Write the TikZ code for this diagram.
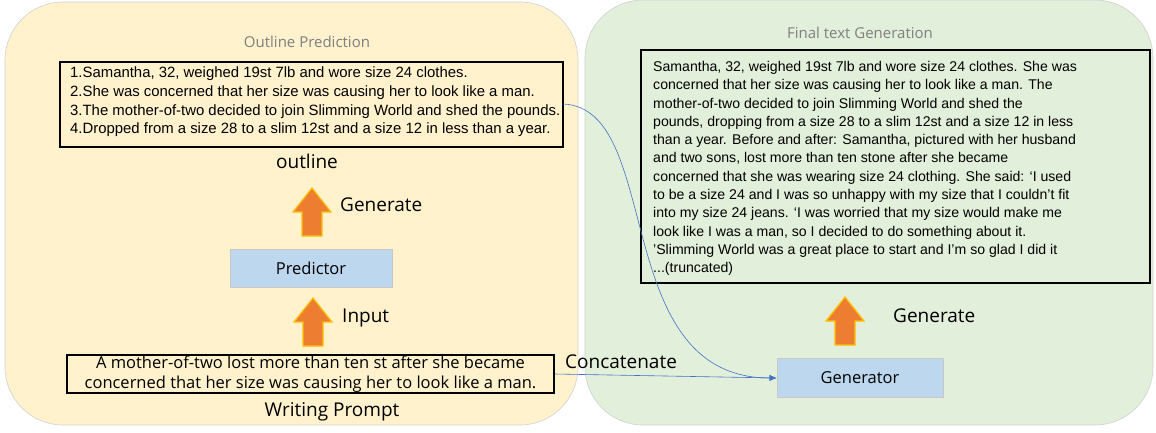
\documentclass[tikz,border=0pt]{standalone}
\usepackage{fontspec}
\usetikzlibrary{arrows.meta}
\setmainfont{Liberation Sans}
\newfontfamily\comic{Open Sans}
\definecolor{yelc}{HTML}{FFF2CC}
\definecolor{grnc}{HTML}{E2EFDA}
\definecolor{panelc}{HTML}{D0D0D0}
\definecolor{bluec}{HTML}{BDD7EE}
\definecolor{boxbc}{HTML}{C8C8C8}
\definecolor{orac}{HTML}{ED7D31}
\definecolor{goldc}{HTML}{FFC000}
\definecolor{linec}{HTML}{4472C4}
\definecolor{titc}{HTML}{7F7F7F}
\begin{document}
\begin{tikzpicture}[x=1pt,y=-1pt,
  panel/.style={draw=panelc, line width=0.6pt, rounded corners=58pt},
  modbox/.style={draw=boxbc, line width=0.8pt, fill=bluec, minimum width=162pt, minimum height=38pt, font=\comic\fontsize{16.5}{18}\selectfont},
  lbl/.style={font=\comic\fontsize{19}{22}\selectfont, inner sep=0pt},
  ttl/.style={font=\comic\fontsize{15}{18}\selectfont, text=titc, inner sep=0pt},
  conn/.style={draw=linec, line width=0.6pt, -{Latex[length=7pt,width=6pt]}},
  uparrow/.pic={\draw[fill=orac, draw=goldc, line width=1.2pt] (0,0) -- (19,24) -- (10,24) -- (10,48) -- (-10,48) -- (-10,24) -- (-19,24) -- cycle;}
]
\useasboundingbox (0,0) rectangle (1156,432);
% panels
\draw[panel, fill=yelc] (5,2) rectangle (578,425);
\draw[panel, fill=grnc] (585,0) rectangle (1153,425);
% titles
\node[ttl] (t1) at (307,42) {Outline Prediction};
\node[ttl] (t2) at (860,33) {Final text Generation};
% outline box
\draw[line width=1.6pt] (60,62) rectangle (563,147);
\node[inner sep=0pt, anchor=north west, align=left, font=\fontsize{14.9}{18.8}\selectfont] (outl) at (70,66.5)
{1.Samantha, 32, weighed 19st 7lb and wore size 24 clothes.\\
2.She was concerned that her size was causing her to look like a man.\\
3.The mother-of-two decided to join Slimming World and shed the pounds.\\
4.Dropped from a size 28 to a slim 12st and a size 12 in less than a year.};
\coordinate (outE) at (563,104);
\node[lbl] (olab) at (307,161) {outline};
% arrows left
\pic at (312,188) {uparrow};
\node[lbl, anchor=west] (gen1) at (340,205) {Generate};
\node[modbox] (pred) at (311,268) {Predictor};
\pic at (313,298) {uparrow};
\node[lbl, anchor=west] (inp) at (342,318) {Input};
% prompt box
\node[draw=black, line width=1.6pt, minimum width=487pt, minimum height=38pt, inner sep=0pt, align=center,
  font=\comic\fontsize{16.5}{19.5}\selectfont] (prompt) at (310.5,374) {A mother-of-two lost more than ten st after she became\\concerned that her size was causing her to look like a man.};
\node[lbl] (wp) at (332,412) {Writing Prompt};
\node[lbl, anchor=west] (cat) at (565,362) {Concatenate};
% final text
\draw[line width=1.6pt] (641,50) rectangle (1150,283);
\node[inner sep=0pt, anchor=north west, align=left, font=\fontsize{14.1}{18.3}\selectfont] (final) at (653,61)
{Samantha, 32, weighed 19st 7lb and wore size 24 clothes. She was\\
concerned that her size was causing her to look like a man. The\\
mother-of-two decided to join Slimming World and shed the\\
pounds, dropping from a size 28 to a slim 12st and a size 12 in less\\
than a year. Before and after: Samantha, pictured with her husband\\
and two sons, lost more than ten stone after she became\\
concerned that she was wearing size 24 clothing. She said: ‘I used\\
to be a size 24 and I was so unhappy with my size that I couldn’t fit\\
into my size 24 jeans. ‘I was worried that my size would make me\\
look like I was a man, so I decided to do something about it.\\
’Slimming World was a great place to start and I’m so glad I did it\\
...(truncated)};
\pic at (845,297) {uparrow};
\node[lbl, anchor=west] (gen2) at (893,316) {Generate};
\node[modbox, minimum width=166pt, minimum height=39pt] (gen) at (860,378) {Generator};
% connectors
\draw[conn] (prompt.east) -- (gen.west);
\draw[conn] (outE) .. controls (665,108) and (608,378) .. (gen.west);
\end{tikzpicture}
\end{document}
